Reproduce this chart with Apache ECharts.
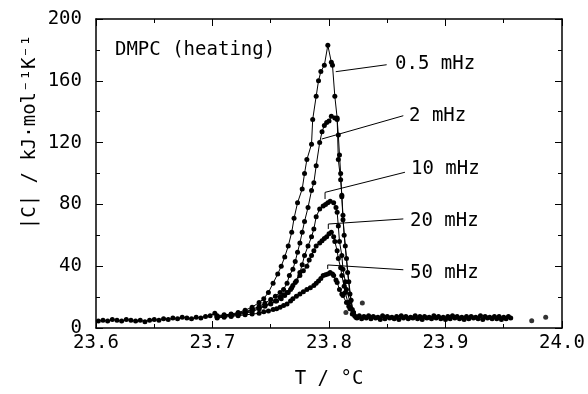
<!DOCTYPE html>
<html><head><meta charset="utf-8">
<script src="https://cdn.jsdelivr.net/npm/echarts@6/dist/echarts.min.js"></script>
<style>html,body{margin:0;padding:0;background:#fff}#c{width:588px;height:394px}</style>
</head><body><div id="c"></div>
<script>
// ---- data (T in °C, |C| in kJ/mol/K) ----
const xRange = [23.6, 24.0];
const yRange = [0, 200];
const baselineLeft = [[23.602,4.5],[23.606,5],[23.610,4.5],[23.614,5.5],[23.618,5],[23.622,4.5],[23.626,5.5],[23.630,5],[23.634,4.5],[23.638,5],[23.642,4],[23.646,5],[23.650,5.5],[23.654,5],[23.658,6],[23.662,5.5],[23.666,6.5],[23.670,6],[23.674,7],[23.678,6.5],[23.682,6],[23.686,7],[23.690,6.5],[23.694,7.5],[23.698,8],[23.702,9.5]];
const s05 = [[23.704,8],[23.710,8.5],[23.716,9],[23.722,10],[23.728,11.5],[23.734,13.5],[23.740,16.5],[23.744,19],[23.748,23],[23.752,29],[23.756,35],[23.759,40],[23.762,46],[23.765,53],[23.768,62],[23.770,71],[23.773,81],[23.777,90],[23.779,100],[23.781,109],[23.785,119],[23.786,135],[23.789,150],[23.791,160],[23.793,166],[23.796,170],[23.799,183],[23.802,172],[23.803,170],[23.805,150],[23.807,136],[23.808,109],[23.810,96],[23.811,86],[23.812,73],[23.813,60],[23.815,45],[23.817,30],[23.819,18],[23.821,10],[23.823,7]];
const s2 = [[23.704,7.5],[23.710,8],[23.716,8.5],[23.722,9.5],[23.728,10.5],[23.734,12],[23.740,14],[23.745,16],[23.750,18.5],[23.754,20.5],[23.758,23],[23.761,25],[23.764,29],[23.766,34],[23.769,38],[23.771,43],[23.773,49],[23.775,55],[23.777,62],[23.779,69],[23.782,78],[23.785,89],[23.787,94],[23.789,105],[23.792,120],[23.794,127],[23.796,131],[23.798,133],[23.800,134],[23.802,137],[23.805,136],[23.807,135],[23.808,125],[23.809,112],[23.810,100],[23.811,85],[23.812,70],[23.814,53],[23.816,36],[23.818,22],[23.820,12],[23.822,8]];
const s10 = [[23.704,7.5],[23.710,8],[23.716,8.5],[23.722,9],[23.728,10],[23.734,11.5],[23.740,13],[23.745,14.5],[23.750,16],[23.755,17.5],[23.759,19],[23.762,21],[23.765,23],[23.768,26],[23.771,29.5],[23.775,36],[23.777,41],[23.779,47],[23.782,53],[23.785,59],[23.787,64],[23.789,72],[23.792,77],[23.795,79],[23.797,80],[23.799,81],[23.801,82],[23.804,81],[23.806,78],[23.807,75],[23.808,66],[23.809,56],[23.811,47],[23.812,38],[23.814,30],[23.815,25],[23.818,17],[23.821,10]];
const s20 = [[23.704,7],[23.710,7.5],[23.716,8],[23.722,8.5],[23.728,9.5],[23.734,10.5],[23.740,12.5],[23.745,14],[23.750,15.5],[23.754,17.5],[23.758,20],[23.761,21.5],[23.764,23],[23.767,25],[23.769,27.5],[23.772,30.5],[23.775,34],[23.778,37],[23.781,40],[23.783,44],[23.785,47],[23.787,50],[23.789,53],[23.792,55],[23.794,56.5],[23.796,58],[23.798,59],[23.800,61],[23.802,62],[23.804,59],[23.805,56],[23.807,50],[23.808,45],[23.810,39],[23.811,34],[23.813,27],[23.814,23],[23.817,14],[23.820,9]];
const s50 = [[23.704,6.5],[23.710,7],[23.716,7.5],[23.722,8],[23.728,8.5],[23.734,9],[23.740,9.5],[23.744,10.5],[23.748,11],[23.752,12],[23.755,12.5],[23.758,13.5],[23.761,14.5],[23.764,15.5],[23.767,17.5],[23.769,19],[23.772,20.5],[23.775,22],[23.778,23.5],[23.781,25],[23.784,26],[23.787,27.5],[23.789,29],[23.791,30.5],[23.793,32],[23.795,34],[23.797,34.5],[23.799,35],[23.801,36],[23.803,35],[23.804,34],[23.806,31],[23.807,29.5],[23.809,25],[23.811,22],[23.812,21],[23.815,16.5],[23.818,12.5],[23.821,9],[23.824,7]];
const baselineRightA = [[23.824,6.5],[23.828,6],[23.832,6.5],[23.836,6],[23.840,6.5],[23.844,5.5],[23.848,6],[23.852,6.5],[23.856,6],[23.860,5.5],[23.864,6.5],[23.868,6],[23.872,6.5],[23.876,6],[23.880,5.5],[23.884,6.5],[23.888,6],[23.892,6.5],[23.896,6],[23.900,5.5],[23.904,6],[23.908,6.5],[23.912,6],[23.916,5.5],[23.920,6],[23.924,6.5],[23.928,6],[23.932,5.5],[23.936,6.5],[23.940,6],[23.944,6],[23.948,5.5],[23.952,6],[23.956,6.5]];
const baselineRightB = [[23.826,8],[23.830,7.5],[23.834,8],[23.838,7.5],[23.842,7],[23.846,8],[23.850,7.5],[23.854,7],[23.858,7.5],[23.862,8],[23.866,7.5],[23.870,7],[23.874,8],[23.878,7.5],[23.882,7.5],[23.886,7],[23.890,8],[23.894,7.5],[23.898,7],[23.902,7.5],[23.906,8],[23.910,7.5],[23.914,7],[23.918,7.5],[23.922,7.5],[23.926,7],[23.930,8],[23.934,7.5],[23.938,7],[23.942,7.5],[23.946,7.5],[23.950,7],[23.954,7.5]];
const strayPoints = [[23.8286,16.2],[23.8145,10],[23.974,4.7],[23.986,6.9]];
const seriesNames = ['0.5 mHz','2 mHz','10 mHz','20 mHz','50 mHz'];
const labelAnchors = [[23.8567,170.9],[23.8687,137.2],[23.8704,102.9],[23.8695,69.4],[23.8695,35.6]];
const leaders = [
  [[23.8058,165.9],[23.8495,170.4]],
  [[23.7937,122.3],[23.8638,137.4]],
  [[23.7966,83.5],[23.7966,87.8],[23.8652,100.8]],
  [[23.7994,64.1],[23.7994,67.3],[23.8638,70.6]],
  [[23.7989,38.2],[23.7989,40.8],[23.8638,37.7]]
];
const titleText = 'DMPC (heating)';
const titleAnchor = [23.6163,179.9];
const xTitle = 'T / °C';
const yTitle = '|C| / kJ·mol⁻¹K⁻¹';

// ---- chart ----
const FONT = '"DejaVu Sans Mono", monospace';
const chart = echarts.init(document.getElementById('c'), null, {renderer:'canvas'});
function curve(name, data, withLine){
  return {name, type:'line', data, symbol:'circle', symbolSize:5, showSymbol:true,
    itemStyle:{color:'#000'}, lineStyle:{color:'#000', width: withLine ? 1 : 0},
    silent:true, animation:false, z:3};
}
const axisCommon = {
  axisLine:{show:true, onZero:false, lineStyle:{color:'#000', width:1.5}},
  axisTick:{show:true, inside:true, length:7, lineStyle:{color:'#000', width:1}},
  minorTick:{show:true, splitNumber:2, length:4, lineStyle:{color:'#000', width:1}},
  splitLine:{show:false}, minorSplitLine:{show:false}
};
const labelFont = {color:'#000', fontFamily:FONT, fontSize:19};
chart.setOption({
  animation:false,
  backgroundColor:'#fff',
  grid:{left:96, right:26, top:19, bottom:65},
  xAxis:[
    Object.assign({type:'value', position:'bottom', min:xRange[0], max:xRange[1], interval:0.1,
      axisLabel:Object.assign({margin:6, formatter:v=>v.toFixed(1)}, labelFont),
      name:xTitle, nameLocation:'middle', nameGap:42, nameTextStyle:labelFont}, axisCommon),
    Object.assign({type:'value', position:'top', min:xRange[0], max:xRange[1], interval:0.1,
      axisLabel:{show:false}}, axisCommon)
  ],
  yAxis:[
    Object.assign({type:'value', position:'left', min:yRange[0], max:yRange[1], interval:40,
      axisLabel:Object.assign({margin:14}, labelFont)}, axisCommon),
    Object.assign({type:'value', position:'right', min:yRange[0], max:yRange[1], interval:40,
      axisLabel:{show:false}}, axisCommon)
  ],
  series:[
    curve('baseline', baselineLeft, true),
    curve(seriesNames[0], s05, true),
    curve(seriesNames[1], s2, true),
    curve(seriesNames[2], s10, true),
    curve(seriesNames[3], s20, true),
    curve(seriesNames[4], s50, true),
    curve('baseA', baselineRightA, true),
    curve('baseB', baselineRightB, true),
    {type:'scatter', data:strayPoints, symbolSize:5, itemStyle:{color:'#000'}, silent:true}
  ]
});
const px = p => chart.convertToPixel({gridIndex:0}, p);
const graphics = [];
leaders.forEach(l => graphics.push({type:'polyline', silent:true, z:10,
  shape:{points:l.map(px)}, style:{stroke:'#000', lineWidth:1, fill:null}}));
labelAnchors.forEach((a,i) => { const p = px(a); graphics.push({type:'text', silent:true, z:10,
  x:p[0], y:p[1], style:{text:seriesNames[i], fill:'#000', font:'19px '+FONT, textAlign:'left', textVerticalAlign:'middle'}}); });
const tp = px(titleAnchor);
graphics.push({type:'text', silent:true, z:10, x:tp[0], y:tp[1],
  style:{text:titleText, fill:'#000', font:'19px '+FONT, textAlign:'left', textVerticalAlign:'middle'}});
graphics.push({type:'text', silent:true, z:10, x:30, y:132, rotation:Math.PI/2,
  style:{text:yTitle, fill:'#000', font:'19px '+FONT, textAlign:'center', textVerticalAlign:'middle'}});
chart.setOption({graphic:graphics});
</script></body></html>
